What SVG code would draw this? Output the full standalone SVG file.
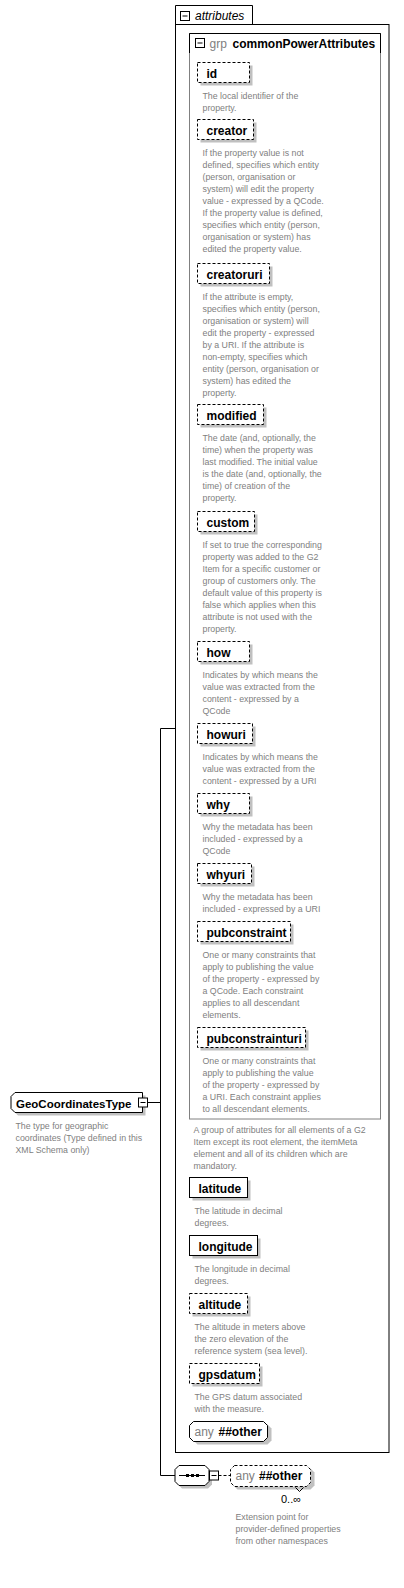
<svg xmlns="http://www.w3.org/2000/svg" width="404" height="1588" viewBox="0 0 404 1588">
<style>
.t{font-family:"Liberation Sans",Arial,sans-serif;font-size:12px;font-weight:bold;fill:#000}
.g{font-family:"Liberation Sans",Arial,sans-serif;font-size:12px;fill:#808080}
.i{font-family:"Liberation Sans",Arial,sans-serif;font-size:12px;font-style:italic;fill:#000}
.d{font-family:"Liberation Sans",Arial,sans-serif;font-size:8.8px;fill:#808080}
.m{font-family:"Liberation Sans",Arial,sans-serif;font-size:11px;fill:#000}
.b{fill:#fff;stroke:#000;stroke-width:1}
.k{stroke-dasharray:3,2}
.s{fill:#c0c0c0}
.ln{stroke:#000;stroke-width:1;fill:none}
</style>
<rect width="404" height="1588" fill="#fff"/>
<g id="connectors">
<path class="ln" d="M175,728.5H160.5V1475.5H175"/>
<path class="ln" d="M147,1102.5H160.5"/>
<path class="ln k" d="M218.5,1475.5H230.5"/>
</g>
<g id="attributes">
<path class="ln" d="M175.5,24.5V5.5H252.5V24.5"/>
<rect x="175.5" y="24.5" width="213.5" height="1428" class="ln"/>
<rect x="180.5" y="11.5" width="9" height="9" class="b"/>
<path class="ln" d="M182.5,16H187.5"/>
<text x="195" y="19.5" class="i">attributes</text>
</g>
<g id="grp">
<rect x="189.5" y="33.5" width="191" height="1085.5" fill="none" stroke="#808080"/>
<path class="ln" d="M189.5,53V33.5H380.5V53"/>
<rect x="195.5" y="38.5" width="9" height="9" class="b"/>
<path class="ln" d="M197.5,43H202.5"/>
<text x="209.5" y="47.5" class="g">grp</text>
<text x="232.5" y="47.5" class="t">commonPowerAttributes</text>
<text class="d"><tspan x="193.5" y="1133">A group of attributes for all elements of a G2</tspan><tspan x="193.5" y="1145">Item except its root element, the itemMeta</tspan><tspan x="193.5" y="1157">element and all of its children which are</tspan><tspan x="193.5" y="1169">mandatory.</tspan></text>
</g>
<g id="id">
<rect x="200.5" y="65.5" width="52" height="20" class="s"/>
<rect x="197.5" y="62.5" width="52" height="20" class="b k"/>
<text x="206.5" y="77.5" class="t">id</text>
<text class="d"><tspan x="202.5" y="99">The local identifier of the</tspan><tspan x="202.5" y="111">property.</tspan></text>
</g>
<g id="creator">
<rect x="200.5" y="122.5" width="56" height="20" class="s"/>
<rect x="197.5" y="119.5" width="56" height="20" class="b k"/>
<text x="206.5" y="134.5" class="t">creator</text>
<text class="d"><tspan x="202.5" y="156">If the property value is not</tspan><tspan x="202.5" y="168">defined, specifies which entity</tspan><tspan x="202.5" y="180">(person, organisation or</tspan><tspan x="202.5" y="192">system) will edit the property</tspan><tspan x="202.5" y="204">value - expressed by a QCode.</tspan><tspan x="202.5" y="216">If the property value is defined,</tspan><tspan x="202.5" y="228">specifies which entity (person,</tspan><tspan x="202.5" y="240">organisation or system) has</tspan><tspan x="202.5" y="252">edited the property value.</tspan></text>
</g>
<g id="creatoruri">
<rect x="200.5" y="266.5" width="72" height="20" class="s"/>
<rect x="197.5" y="263.5" width="72" height="20" class="b k"/>
<text x="206.5" y="278.5" class="t">creatoruri</text>
<text class="d"><tspan x="202.5" y="300">If the attribute is empty,</tspan><tspan x="202.5" y="312">specifies which entity (person,</tspan><tspan x="202.5" y="324">organisation or system) will</tspan><tspan x="202.5" y="336">edit the property - expressed</tspan><tspan x="202.5" y="348">by a URI. If the attribute is</tspan><tspan x="202.5" y="360">non-empty, specifies which</tspan><tspan x="202.5" y="372">entity (person, organisation or</tspan><tspan x="202.5" y="384">system) has edited the</tspan><tspan x="202.5" y="396">property.</tspan></text>
</g>
<g id="modified">
<rect x="200.5" y="407.5" width="66" height="20" class="s"/>
<rect x="197.5" y="404.5" width="66" height="20" class="b k"/>
<text x="206.5" y="419.5" class="t">modified</text>
<text class="d"><tspan x="202.5" y="441">The date (and, optionally, the</tspan><tspan x="202.5" y="453">time) when the property was</tspan><tspan x="202.5" y="465">last modified. The initial value</tspan><tspan x="202.5" y="477">is the date (and, optionally, the</tspan><tspan x="202.5" y="489">time) of creation of the</tspan><tspan x="202.5" y="501">property.</tspan></text>
</g>
<g id="custom">
<rect x="200.5" y="514.5" width="57" height="20" class="s"/>
<rect x="197.5" y="511.5" width="57" height="20" class="b k"/>
<text x="206.5" y="526.5" class="t">custom</text>
<text class="d"><tspan x="202.5" y="548">If set to true the corresponding</tspan><tspan x="202.5" y="560">property was added to the G2</tspan><tspan x="202.5" y="572">Item for a specific customer or</tspan><tspan x="202.5" y="584">group of customers only. The</tspan><tspan x="202.5" y="596">default value of this property is</tspan><tspan x="202.5" y="608">false which applies when this</tspan><tspan x="202.5" y="620">attribute is not used with the</tspan><tspan x="202.5" y="632">property.</tspan></text>
</g>
<g id="how">
<rect x="200.5" y="644.5" width="52" height="20" class="s"/>
<rect x="197.5" y="641.5" width="52" height="20" class="b k"/>
<text x="206.5" y="656.5" class="t">how</text>
<text class="d"><tspan x="202.5" y="678">Indicates by which means the</tspan><tspan x="202.5" y="690">value was extracted from the</tspan><tspan x="202.5" y="702">content - expressed by a</tspan><tspan x="202.5" y="714">QCode</tspan></text>
</g>
<g id="howuri">
<rect x="200.5" y="726.5" width="55" height="20" class="s"/>
<rect x="197.5" y="723.5" width="55" height="20" class="b k"/>
<text x="206.5" y="738.5" class="t">howuri</text>
<text class="d"><tspan x="202.5" y="760">Indicates by which means the</tspan><tspan x="202.5" y="772">value was extracted from the</tspan><tspan x="202.5" y="784">content - expressed by a URI</tspan></text>
</g>
<g id="why">
<rect x="200.5" y="796.5" width="52" height="20" class="s"/>
<rect x="197.5" y="793.5" width="52" height="20" class="b k"/>
<text x="206.5" y="808.5" class="t">why</text>
<text class="d"><tspan x="202.5" y="830">Why the metadata has been</tspan><tspan x="202.5" y="842">included - expressed by a</tspan><tspan x="202.5" y="854">QCode</tspan></text>
</g>
<g id="whyuri">
<rect x="200.5" y="866.5" width="54" height="20" class="s"/>
<rect x="197.5" y="863.5" width="54" height="20" class="b k"/>
<text x="206.5" y="878.5" class="t">whyuri</text>
<text class="d"><tspan x="202.5" y="900">Why the metadata has been</tspan><tspan x="202.5" y="912">included - expressed by a URI</tspan></text>
</g>
<g id="pubconstraint">
<rect x="200.5" y="924.5" width="93" height="20" class="s"/>
<rect x="197.5" y="921.5" width="93" height="20" class="b k"/>
<text x="206.5" y="936.5" class="t">pubconstraint</text>
<text class="d"><tspan x="202.5" y="958">One or many constraints that</tspan><tspan x="202.5" y="970">apply to publishing the value</tspan><tspan x="202.5" y="982">of the property - expressed by</tspan><tspan x="202.5" y="994">a QCode. Each constraint</tspan><tspan x="202.5" y="1006">applies to all descendant</tspan><tspan x="202.5" y="1018">elements.</tspan></text>
</g>
<g id="pubconstrainturi">
<rect x="200.5" y="1030.5" width="108" height="20" class="s"/>
<rect x="197.5" y="1027.5" width="108" height="20" class="b k"/>
<text x="206.5" y="1042.5" class="t">pubconstrainturi</text>
<text class="d"><tspan x="202.5" y="1064">One or many constraints that</tspan><tspan x="202.5" y="1076">apply to publishing the value</tspan><tspan x="202.5" y="1088">of the property - expressed by</tspan><tspan x="202.5" y="1100">a URI. Each constraint applies</tspan><tspan x="202.5" y="1112">to all descendant elements.</tspan></text>
</g>
<g id="latitude">
<rect x="192.5" y="1180.5" width="58" height="20" class="s"/>
<rect x="189.5" y="1177.5" width="58" height="20" class="b"/>
<text x="198.5" y="1192.5" class="t">latitude</text>
<text class="d"><tspan x="194.5" y="1214">The latitude in decimal</tspan><tspan x="194.5" y="1226">degrees.</tspan></text>
</g>
<g id="longitude">
<rect x="192.5" y="1238.5" width="68" height="20" class="s"/>
<rect x="189.5" y="1235.5" width="68" height="20" class="b"/>
<text x="198.5" y="1250.5" class="t">longitude</text>
<text class="d"><tspan x="194.5" y="1272">The longitude in decimal</tspan><tspan x="194.5" y="1284">degrees.</tspan></text>
</g>
<g id="altitude">
<rect x="192.5" y="1296.5" width="58" height="20" class="s"/>
<rect x="189.5" y="1293.5" width="58" height="20" class="b k"/>
<text x="198.5" y="1308.5" class="t">altitude</text>
<text class="d"><tspan x="194.5" y="1330">The altitude in meters above</tspan><tspan x="194.5" y="1342">the zero elevation of the</tspan><tspan x="194.5" y="1354">reference system (sea level).</tspan></text>
</g>
<g id="gpsdatum">
<rect x="192.5" y="1366.5" width="70" height="20" class="s"/>
<rect x="189.5" y="1363.5" width="70" height="20" class="b k"/>
<text x="198.5" y="1378.5" class="t">gpsdatum</text>
<text class="d"><tspan x="194.5" y="1400">The GPS datum associated</tspan><tspan x="194.5" y="1412">with the measure.</tspan></text>
</g>
<g id="any-attr">
<path class="s" d="M197.5,1424.5H267.5L271.5,1428.5V1440.5L267.5,1444.5H197.5L193.5,1440.5V1428.5Z"/>
<path class="b" d="M193.5,1421.5H263.5L267.5,1425.5V1437.5L263.5,1441.5H193.5L189.5,1437.5V1425.5Z"/>
<text x="194.5" y="1436" class="g">any</text>
<text x="218.5" y="1436" class="t">##other</text>
</g>
<g id="GeoCoordinatesType">
<path class="s" d="M18,1095.5H145.5V1115.5H18L14,1111.5V1099.5Z"/>
<path class="b" d="M15,1092.5H142.5V1112.5H15L11,1108.5V1096.5Z"/>
<text x="16" y="1107.5" class="t" style="font-size:11.5px">GeoCoordinatesType</text>
<rect x="138.5" y="1098" width="9" height="9" class="b"/>
<path class="ln" d="M140.5,1102.5H145.5"/>
<text class="d"><tspan x="15.5" y="1129">The type for geographic</tspan><tspan x="15.5" y="1141">coordinates (Type defined in this</tspan><tspan x="15.5" y="1153">XML Schema only)</tspan></text>
</g>
<g id="sequence">
<path class="s" d="M182,1468.5H208L212,1472.5V1484.5L208,1488.5H182L178,1484.5V1472.5Z"/>
<path class="b" d="M179,1465.5H205L209,1469.5V1481.5L205,1485.5H179L175,1481.5V1469.5Z"/>
<path class="ln" d="M179,1475.5H205"/>
<rect x="186" y="1474" width="3" height="3" fill="#000"/>
<rect x="191" y="1474" width="3" height="3" fill="#000"/>
<rect x="196" y="1474" width="3" height="3" fill="#000"/>
<rect x="209.5" y="1471" width="9" height="9" class="b"/>
<path class="ln" d="M211.5,1475.5H216.5"/>
</g>
<g id="any-element">
<path class="s" d="M237.5,1468.5H310.5L314.5,1472.5V1485.5L310.5,1489.5H237.5L233.5,1485.5V1472.5Z"/>
<path class="b k" d="M234.5,1465.5H306.5L310.5,1469.5V1482.5L306.5,1486.5H234.5L230.5,1482.5V1469.5Z"/>
<path class="ln" d="M295.5,1487.5L299.5,1491.5L303.5,1487.5"/>
<text x="235.5" y="1480" class="g">any</text>
<text x="259" y="1480" class="t">##other</text>
<text x="281" y="1503" class="m">0..∞</text>
<text class="d"><tspan x="235.5" y="1520">Extension point for</tspan><tspan x="235.5" y="1532">provider-defined properties</tspan><tspan x="235.5" y="1544">from other namespaces</tspan></text>
</g>
</svg>
